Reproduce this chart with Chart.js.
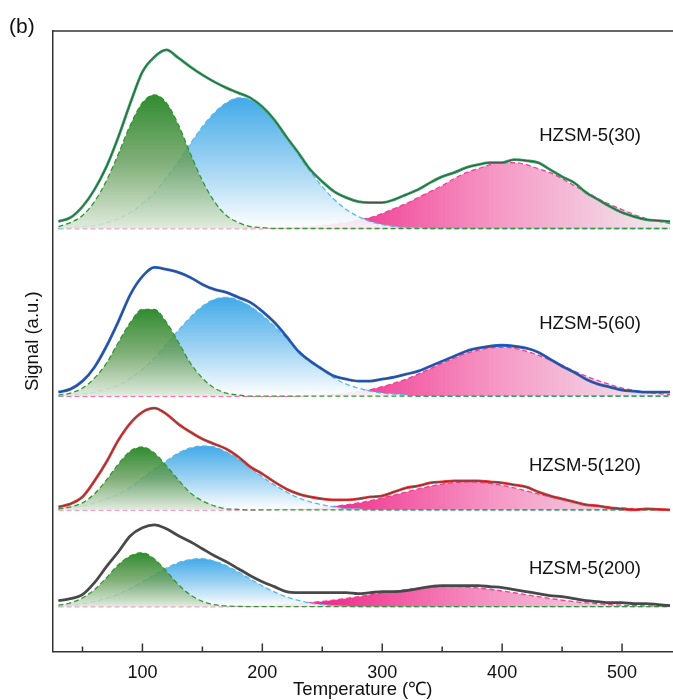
<!DOCTYPE html>
<html>
<head>
<meta charset="utf-8">
<script src="https://cdn.jsdelivr.net/npm/chart.js@4.4.0/dist/chart.umd.min.js"></script>
<style>
html, body { margin: 0; padding: 0; background: #fff; }
#wrap { width: 673px; height: 700px; position: relative; }
</style>
</head>
<body>
<div id="wrap"><canvas id="tpd"></canvas></div>
<script>
// temperature grid (°C)
const temps = [30,40,50,60,70,80,90,100,110,120,130,140,150,160,170,180,190,200,210,220,230,240,250,260,270,280,290,300,310,320,330,340,350,360,370,380,390,400,410,420,430,440,450,460,470,480,490,500,510,520,530,540];

const samples = ['HZSM-5(30)', 'HZSM-5(60)', 'HZSM-5(120)', 'HZSM-5(200)'];
// vertical shift of each curve (a.u.)
const offsets = [424, 256, 142, 45];

// HZSM-5(30)
const exp30   = [7,11,22,39,62,92,126,157,172,179,171,162,154,147,141,136,131,122,109,92,76,59,47,37,31,27,26,26,29,34,39,46,52,56,61,64,66,66,69,68,66,59,52,46,36,29,22,16,12,9,8,7];
const green30 = [2,6,13,27,48,75,104,126,134,126,104,75,48,27,13,6,2,1,0,0,0,0,0,0,0,0,0,0,0,0,0,0,0,0,0,0,0,0,0,0,0,0,0,0,0,0,0,0,0,0,0,0];
const blue30  = [0,1,2,3,6,10,16,25,36,51,67,85,102,116,126,131,129,121,108,92,74,57,42,29,19,12,7,4,2,1,1,0,0,0,0,0,0,0,0,0,0,0,0,0,0,0,0,0,0,0,0,0];
const pink30  = [0,0,0,0,0,0,0,0,0,0,0,0,0,0,0,0,0,0,0.5,1,1.5,2,3,4.5,6,8.5,11,15,20,25,31,37,43,50,56,60,64,66,66,64,60,56,50,43,37,30,24,19,14,10,7.5,5];

// HZSM-5(60)
const exp60   = [4,7,15,29,50,75,102,120,129,127,124,119,112,107,104,99,94,85,74,60,45,35,27,20,17,15,15,17,19,22,25,30,35,40,45,48,50,51,50,48,44,37,30,24,17,12,9,6,5,4,4,4];
const green60 = [1,3,8,18,33,54,74,87,87,74,54,33,18,8,3,1,0,0,0,0,0,0,0,0,0,0,0,0,0,0,0,0,0,0,0,0,0,0,0,0,0,0,0,0,0,0,0,0,0,0,0,0];
const blue60  = [0,1,2,4,7,11,18,27,38,52,66,79,90,97,99,96,90,81,70,58,46,35,26,18,12,8,5,3,2,1,0,0,0,0,0,0,0,0,0,0,0,0,0,0,0,0,0,0,0,0,0,0];
const pink60  = [0,0,0,0,0,0,0,0,0,0,0,0,0,0,0,0,0,0,0,0,0.3,0.7,1.1,1.9,2.9,4.5,6.6,9.4,13,17,22,27.5,33,38,43,46,48.5,49,48,45,41,36,31,25,20,15.5,11.5,8,5.7,3.8,2.5,1.5];

// HZSM-5(120)
const exp120   = [3,6,13,29,48,70,87,98,102,96,86,78,71,66,61,53,43,36,28,21,16,13,11,10,10,11,13,14,18,22,24,27,28,29,29,29,28,27,25,23,18,14,11,8,5,4,2,1,0,1,0.5,0];
const green120 = [1,3,7,16,30,46,59,63,57,44,30,17,9,4,1,0.5,0,0,0,0,0,0,0,0,0,0,0,0,0,0,0,0,0,0,0,0,0,0,0,0,0,0,0,0,0,0,0,0,0,0,0,0];
const blue120  = [1,2,4,7,11,16,23,32,41,49,57,62,64,63,58,51,42,33,25,18,12,8,5,3,1,1,0,0,0,0,0,0,0,0,0,0,0,0,0,0,0,0,0,0,0,0,0,0,0,0,0,0];
const pink120  = [0,0,0,0,0,0,0,0,0,0,0,0,0,0,0,0,0,0.2,0.4,0.6,1,1.6,2.4,3.5,5,6.9,9.2,11.9,14.8,17.9,20.9,23.6,25.8,27.3,28,27.7,26.5,24.6,22,19.1,16,13,10.2,7.8,5.7,4.1,2.8,1.9,1.2,0.8,0.5,0.3];

// HZSM-5(200)
const exp200   = [6,8,12,24,40,55,71,79,82,78,71,65,58,51,45,38,31,25,20,15,14,14,14,14,14,13,14,15,15,16,18,20,21,21,21,21,20,19,17,15,13,11,10,8,6,5,4,4,3,3,2,1];
const green200 = [1.4,3.7,8.7,17,29,42,51,54,47.6,35.5,22,11.7,5.2,1.9,0.6,0.2,0,0,0,0,0,0,0,0,0,0,0,0,0,0,0,0,0,0,0,0,0,0,0,0,0,0,0,0,0,0,0,0,0,0,0,0];
const blue200  = [0.8,1.6,2.9,5,8.2,12.6,18.3,24.9,32,38.6,44,47.3,48,45.6,41,34.7,27.7,20.8,14.7,9.8,6.2,3.7,2,1,0.5,0,0,0,0,0,0,0,0,0,0,0,0,0,0,0,0,0,0,0,0,0,0,0,0,0,0,0];
const pink200  = [0,0,0,0,0,0,0,0,0,0,0,0,0,0,0,0.5,0.8,1.1,1.5,2.2,3,4,5.2,6.6,8.2,9.9,11.8,13.6,15.4,17,18.3,19.3,20,20,19.6,18.7,17.4,15.7,13.9,11.9,10,8.2,6.5,5,3.8,2.8,2,1.4,1,0.7,0.45,0.3];

const expSets   = [exp30, exp60, exp120, exp200];
const greenSets = [green30, green60, green120, green200];
const blueSets  = [blue30, blue60, blue120, blue200];
const pinkSets  = [pink30, pink60, pink120, pink200];

const expColors = ['rgb(45,165,95)', 'rgb(30,95,215)', 'rgb(235,55,55)', 'rgb(75,75,75)'];
const labelLift = [93, 72, 44, 38];
const FONT = '"Liberation Sans", Arial, sans-serif';

function shifted(vals, base) {
    return temps.map((t, i) => ({ x: t, y: base + vals[i] }));
}

// vertical gradient from the top of a peak down to its baseline
function vertGradient(stops) {
    return function(context) {
        const chart = context.chart;
        if (!chart.chartArea) return stops[0][1];
        const ds = context.dataset;
        const y = chart.scales.y;
        const top = Math.max(...ds.data.map(p => p.y));
        const g = chart.ctx.createLinearGradient(0, y.getPixelForValue(top), 0, y.getPixelForValue(ds.base));
        stops.forEach(s => g.addColorStop(s[0], s[1]));
        return g;
    };
}

// pink peak fades from left to right
function horizGradient(stops) {
    return function(context) {
        const chart = context.chart;
        if (!chart.chartArea) return stops[0][1];
        const x = chart.scales.x;
        const g = chart.ctx.createLinearGradient(x.getPixelForValue(250), 0, x.getPixelForValue(540), 0);
        stops.forEach(s => g.addColorStop(s[0], s[1]));
        return g;
    };
}

const greenFill = vertGradient([[0, 'rgba(30,130,30,0.92)'], [0.5, 'rgba(105,160,95,0.85)'], [1, 'rgba(220,232,215,0.85)']]);
const blueFill = vertGradient([[0, 'rgba(55,165,230,0.95)'], [0.45, 'rgba(135,200,240,0.9)'], [1, 'rgba(255,255,255,0.9)']]);
const pinkFill = horizGradient([[0, 'rgba(238,30,130,0.95)'], [0.5, 'rgba(245,140,190,0.9)'], [1, 'rgba(240,235,238,0.9)']]);

const datasets = [];
samples.forEach((name, i) => {
    const base = offsets[i];
    const comp = (label, vals, border, bg, order) => ({
        label: label, base: base,
        data: shifted(vals, base),
        borderColor: border, borderWidth: 1.3, borderDash: [5, 3],
        backgroundColor: bg, fill: { value: base },
        pointRadius: 0, cubicInterpolationMode: 'monotone', order: order
    });
    datasets.push(comp(name + ' peak 3', pinkSets[i], 'rgb(240,60,150)', pinkFill, 4));
    datasets.push(comp(name + ' peak 2', blueSets[i], 'rgb(85,185,240)', blueFill, 3));
    datasets.push(comp(name + ' peak 1', greenSets[i], 'rgb(50,150,50)', greenFill, 2));
    datasets.push({
        label: name, data: shifted(expSets[i], base),
        borderColor: expColors[i], borderWidth: 2.8, fill: false,
        pointRadius: 0, cubicInterpolationMode: 'monotone', order: 1
    });
    datasets.push({
        label: name + ' fit', data: shifted(expSets[i], base),
        borderColor: 'rgba(70,70,70,0.9)', borderWidth: 1, fill: false,
        pointRadius: 0, cubicInterpolationMode: 'monotone', order: 0
    });
});

const framePlugin = {
    id: 'frame',
    afterDraw(chart) {
        const { ctx, chartArea: a, scales: { x, y } } = chart;
        ctx.save();
        ctx.strokeStyle = '#333';
        ctx.lineWidth = 1.5;
        ctx.beginPath();
        ctx.moveTo(a.left, a.top);
        ctx.lineTo(a.right, a.top);
        ctx.stroke();
        x.ticks.forEach(t => {
            const px = x.getPixelForValue(t.value);
            const len = t.value % 100 === 0 ? 8 : 5;
            ctx.beginPath();
            ctx.moveTo(px, a.bottom);
            ctx.lineTo(px, a.bottom - len);
            ctx.stroke();
        });
        ctx.fillStyle = '#111';
        ctx.font = '18.5px ' + FONT;
        ctx.textAlign = 'right';
        ctx.textBaseline = 'middle';
        samples.forEach((s, i) => {
            ctx.fillText(s, 641, y.getPixelForValue(offsets[i] + labelLift[i]));
        });
        ctx.font = '21px ' + FONT;
        ctx.textAlign = 'left';
        ctx.fillText('(b)', 9, 27);
        ctx.restore();
    }
};

new Chart(document.getElementById('tpd'), {
    type: 'line',
    data: { datasets: datasets },
    options: {
        responsive: true,
        maintainAspectRatio: false,
        animation: false,
        devicePixelRatio: 1,
        layout: { padding: { left: 16, top: 31, right: 0, bottom: 0 } },
        plugins: { legend: { display: false }, tooltip: { enabled: false } },
        scales: {
            x: {
                type: 'linear', min: 25, max: 542.5,
                afterBuildTicks: scale => {
                    scale.ticks = [50, 100, 150, 200, 250, 300, 350, 400, 450, 500].map(v => ({ value: v }));
                },
                grid: { display: false, drawTicks: false },
                border: { display: true, color: '#333', width: 1.5 },
                ticks: {
                    font: { family: FONT, size: 18, lineHeight: 1 }, color: '#111', padding: 13,
                    maxRotation: 0, autoSkip: false,
                    callback: v => (v % 100 === 0 ? v : '')
                },
                title: {
                    display: true, text: 'Temperature (℃)', color: '#111',
                    font: { family: FONT, size: 18.5, lineHeight: 1 },
                    padding: { top: -15, bottom: 1 }
                }
            },
            y: {
                min: 0, max: 622,
                grid: { display: false, drawTicks: false },
                border: { display: true, color: '#333', width: 1.5 },
                ticks: { display: false },
                title: {
                    display: true, text: 'Signal (a.u.)', color: '#111',
                    font: { family: FONT, size: 18.5, lineHeight: 1 },
                    padding: { top: 8, bottom: 10 }
                }
            }
        }
    },
    plugins: [framePlugin]
});
</script>
</body>
</html>
